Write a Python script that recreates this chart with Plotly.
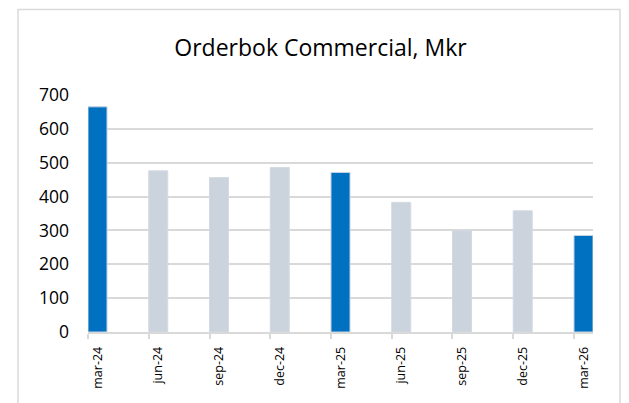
import plotly.graph_objects as go

categories = ["mar-24", "jun-24", "sep-24", "dec-24", "mar-25", "jun-25", "sep-25", "dec-25", "mar-26"]
values = [665, 476, 456, 486, 471, 383, 299, 358, 285]
title_text = "Orderbok Commercial, Mkr"
y_ticks = [0, 100, 200, 300, 400, 500, 600, 700]

W, H = 629, 403
L, R, T, B = 88, 593, 95, 332  # plot area pixels

BAR_W = 0.313
idx = list(range(len(categories)))
xpos = [i + BAR_W / 2 for i in idx]
colors = ["#0070C0" if c.startswith("mar") else "#CBD3DD" for c in categories]
lines = ["#C3D2E3" if c.startswith("mar") else "#D3DAE3" for c in categories]

fig = go.Figure(go.Bar(
    x=xpos, y=values, width=BAR_W,
    marker=dict(color=colors, line=dict(color=lines, width=1)),
    hoverinfo="skip",
))

font = "Open Sans, Noto Sans, sans-serif"
fig.update_layout(
    width=W, height=H,
    margin=dict(l=L, r=W - R, t=T, b=H - B, pad=0),
    paper_bgcolor="white", plot_bgcolor="white",
    showlegend=False,
    title=dict(text=title_text, x=320.5 / W, xanchor="center", xref="container",
               y=1 - 48 / H, yanchor="middle", yref="container",
               font=dict(family=font, size=23, color="#000000")),
    xaxis=dict(
        range=[0, len(categories) - 1 + BAR_W],
        tickmode="array", tickvals=xpos, ticktext=categories,
        tickangle=-90, ticks="", ticklabelstandoff=8,
        tickfont=dict(family=font, size=12.5, color="#000000"),
        showgrid=False, zeroline=False,
        showline=True, linecolor="#D9D9D9", linewidth=1.5,
        minor=dict(tickmode="array", tickvals=idx, ticks="outside", ticklen=5,
                   tickcolor="#D9D9D9", tickwidth=1.5, showgrid=False),
        fixedrange=True,
    ),
    yaxis=dict(
        range=[0, 700], tickmode="array", tickvals=y_ticks,
        ticks="", ticklabelstandoff=18,
        tickfont=dict(family=font, size=17.5, color="#000000"),
        showgrid=True, gridcolor="#D9D9D9", gridwidth=1.5,
        zeroline=False, showline=False, fixedrange=True,
    ),
    shapes=[dict(type="rect", xref="paper", yref="paper",
                 x0=(18 - L) / (R - L), x1=(620 - L) / (R - L),
                 y0=(B - 420) / (B - T), y1=(B - 9.5) / (B - T),
                 line=dict(color="#D9D9D9", width=1.5), fillcolor="rgba(0,0,0,0)",
                 layer="below")],
)

fig.write_html("out.html", config={"displayModeBar": False},
               post_script="document.body.style.margin='0';document.body.style.overflow='hidden';")
